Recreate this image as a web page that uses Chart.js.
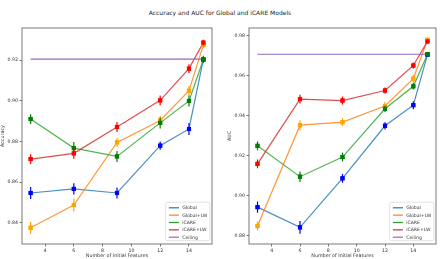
<!DOCTYPE html>
<html><head><meta charset="utf-8">
<script src="https://cdn.jsdelivr.net/npm/chart.js@4/dist/chart.umd.min.js"></script>
<style>
html,body{margin:0;padding:0;background:#fff;width:440px;height:259px;overflow:hidden;}
#title{position:absolute;left:0;top:8.5px;width:440px;text-align:center;font-family:"DejaVu Sans";font-size:6px;line-height:7px;color:#222;}
.w{position:absolute;top:0;height:259px;width:218px;}
</style></head><body>
<div id="title">Accuracy and AUC for Global and iCARE Models</div>
<div class="w" style="left:0"><canvas id="c1"></canvas></div>
<div class="w" style="left:222px"><canvas id="c2"></canvas></div>
<script>
// ---- data ----
const features = [3, 6, 9, 12, 14, 15];
const seriesNames = ['Global', 'Global+LW', 'iCARE', 'iCARE+LW'];
const ceilingName = 'Ceiling';
const xTicks = [4, 6, 8, 10, 12, 14];

const accGlobal   = [0.8546, 0.8566, 0.8546, 0.8779, 0.8861, 0.9203];
const accGlobalLW = [0.8375, 0.8487, 0.8795, 0.8903, 0.9049, 0.9274];
const accICARE    = [0.8910, 0.8767, 0.8726, 0.8891, 0.8999, 0.9203];
const accICARELW  = [0.8713, 0.8741, 0.8871, 0.9002, 0.9158, 0.9286];
const accCeiling  = 0.9205;
const accErrGlobal   = [0.0029, 0.0028, 0.0027, 0.0020, 0.0030, 0.0012];
const accErrGlobalLW = [0.0030, 0.0032, 0.0022, 0.0022, 0.0023, 0.0015];
const accErrICARE    = [0.0024, 0.0030, 0.0027, 0.0027, 0.0027, 0.0018];
const accErrICARELW  = [0.0024, 0.0027, 0.0025, 0.0024, 0.0022, 0.0014];
const accTicks = [0.84, 0.86, 0.88, 0.90, 0.92];

const aucGlobal   = [0.8944, 0.8843, 0.9088, 0.9350, 0.9453, 0.9705];
const aucGlobalLW = [0.8850, 0.9353, 0.9368, 0.9449, 0.9585, 0.9779];
const aucICARE    = [0.9250, 0.9096, 0.9194, 0.9435, 0.9547, 0.9707];
const aucICARELW  = [0.9160, 0.9483, 0.9476, 0.9526, 0.9651, 0.9771];
const aucCeiling  = 0.9707;
const aucErrGlobal   = [0.0028, 0.0032, 0.0022, 0.0018, 0.0020, 0.0010];
const aucErrGlobalLW = [0.0022, 0.0025, 0.0020, 0.0020, 0.0020, 0.0012];
const aucErrICARE    = [0.0022, 0.0026, 0.0022, 0.0016, 0.0016, 0.0010];
const aucErrICARELW  = [0.0022, 0.0022, 0.0020, 0.0015, 0.0015, 0.0010];
const aucTicks = [0.88, 0.90, 0.92, 0.94, 0.96, 0.98];

// ---- styles ----
const lineColors = ['#1f77b4', '#ff7f0e', '#2ca02c', '#d62728'];
const ceilingColor = '#9467bd';
const markerColors = ['#0000ff', '#ffa500', '#008000', '#ff0000'];
const FONT = 'DejaVu Sans';

function pairs(vals) { return features.map((x, i) => ({x: x, y: vals[i]})); }

function buildDatasets(seriesVals, seriesErr, ceiling) {
  const ds = seriesVals.map((vals, i) => ({
    label: seriesNames[i],
    data: pairs(vals),
    err: seriesErr[i],
    borderColor: lineColors[i] + 'd0',
    backgroundColor: markerColors[i],
    pointBackgroundColor: markerColors[i],
    pointBorderColor: markerColors[i],
    pointStyle: 'rect',
    pointRadius: 2.8,
    pointBorderWidth: 0,
    borderWidth: 1.2,
    order: 10 - i,
    markerColor: markerColors[i],
    legendColor: lineColors[i]
  }));
  ds.push({
    label: ceilingName,
    data: [{x: features[0], y: ceiling}, {x: features[features.length - 1], y: ceiling}],
    borderColor: ceilingColor,
    borderWidth: 1.2,
    pointRadius: 0,
    order: 1,
    legendColor: ceilingColor
  });
  return ds;
}

const framePlugin = {
  id: 'frame',
  afterDatasetsDraw(chart) {
    const ctx = chart.ctx, ys = chart.scales.y;
    chart.data.datasets.forEach((d, i) => {
      if (!d.err) return;
      const meta = chart.getDatasetMeta(i);
      ctx.save();
      ctx.strokeStyle = d.markerColor;
      ctx.lineWidth = 1.2;
      meta.data.forEach((pt, j) => {
        const v = d.data[j].y, e = d.err[j];
        ctx.beginPath();
        ctx.moveTo(pt.x, ys.getPixelForValue(v + e));
        ctx.lineTo(pt.x, ys.getPixelForValue(v - e));
        ctx.stroke();
        ctx.fillStyle = d.markerColor;
        const s = 2.1;
        ctx.fillRect(pt.x - s, pt.y - s, 2 * s, 2 * s);
      });
      ctx.restore();
    });
  },
  afterDraw(chart) {
    const ctx = chart.ctx, a = chart.chartArea;
    ctx.save();
    ctx.strokeStyle = '#6a6a6a';
    ctx.lineWidth = 0.9;
    ctx.strokeRect(a.left, a.top, a.right - a.left, a.bottom - a.top);
    const w = 44, h = 38.5;
    const bx = a.right - 2.3 - w, by = a.bottom - 3.3 - h;
    ctx.fillStyle = 'rgba(255,255,255,0.85)';
    ctx.strokeStyle = '#d4d4d4';
    ctx.lineWidth = 0.7;
    ctx.beginPath();
    if (ctx.roundRect) ctx.roundRect(bx, by, w, h, 1.5); else ctx.rect(bx, by, w, h);
    ctx.fill(); ctx.stroke();
    ctx.font = '4.6px "' + FONT + '"';
    ctx.textBaseline = 'middle';
    ctx.textAlign = 'left';
    chart.data.datasets.forEach((d, i) => {
      const yy = by + 5.6 + i * 7.35;
      ctx.strokeStyle = d.legendColor;
      ctx.lineWidth = 1.2;
      ctx.beginPath();
      ctx.moveTo(bx + 3.2, yy); ctx.lineTo(bx + 13.2, yy);
      ctx.stroke();
      ctx.fillStyle = '#333';
      ctx.fillText(d.label, bx + 16.5, yy + 0.2);
    });
    ctx.restore();
  }
};

function makeChart(id, datasets, yMin, yMax, yTicks, yTitle, yWidth, titlePad, rightPad) {
  return new Chart(document.getElementById(id), {
    type: 'line',
    data: {datasets: datasets},
    plugins: [framePlugin],
    options: {
      responsive: true,
      maintainAspectRatio: false,
      animation: false,
      events: [],
      layout: {padding: {left: 0, right: rightPad, top: 28, bottom: 0}},
      plugins: {legend: {display: false}, tooltip: {enabled: false}, title: {display: false}},
      scales: {
        x: {
          type: 'linear', min: 2.4, max: 15.6,
          afterBuildTicks(s) { s.ticks = xTicks.map(v => ({value: v})); },
          afterFit(s) { s.height = 15; },
          border: {display: false},
          grid: {display: true, drawOnChartArea: false, drawTicks: true, tickLength: 2.5, color: '#555', lineWidth: 0.8},
          ticks: {font: {family: FONT, size: 4.7}, color: '#333', padding: 1.2, maxRotation: 0, autoSkip: false,
                  callback: v => String(v)},
          title: {display: true, text: 'Number of Initial Features', font: {family: FONT, size: 4.8}, color: '#333', padding: {top: 0, bottom: 0.5}}
        },
        y: {
          type: 'linear', min: yMin, max: yMax,
          afterBuildTicks(s) { s.ticks = yTicks.map(v => ({value: v})); },
          afterFit(s) { s.width = yWidth; },
          border: {display: false},
          grid: {display: true, drawOnChartArea: false, drawTicks: true, tickLength: 2.5, color: '#555', lineWidth: 0.8},
          ticks: {font: {family: FONT, size: 4.7}, color: '#333', padding: 1.6, autoSkip: false,
                  callback: v => Number(v).toFixed(2)},
          title: {display: true, text: yTitle, font: {family: FONT, size: 4.8}, color: '#333', padding: {top: titlePad, bottom: 0}}
        }
      }
    }
  });
}

makeChart('c1',
  buildDatasets([accGlobal, accGlobalLW, accICARE, accICARELW],
                [accErrGlobal, accErrGlobalLW, accErrICARE, accErrICARELW], accCeiling),
  0.8295, 0.9358, accTicks, 'Accuracy', 22, 0.3, 6);
makeChart('c2',
  buildDatasets([aucGlobal, aucGlobalLW, aucICARE, aucICARELW],
                [aucErrGlobal, aucErrGlobalLW, aucErrICARE, aucErrICARELW], aucCeiling),
  0.876, 0.9838, aucTicks, 'AUC', 27, 5.3, 2);
</script>
</body></html>
